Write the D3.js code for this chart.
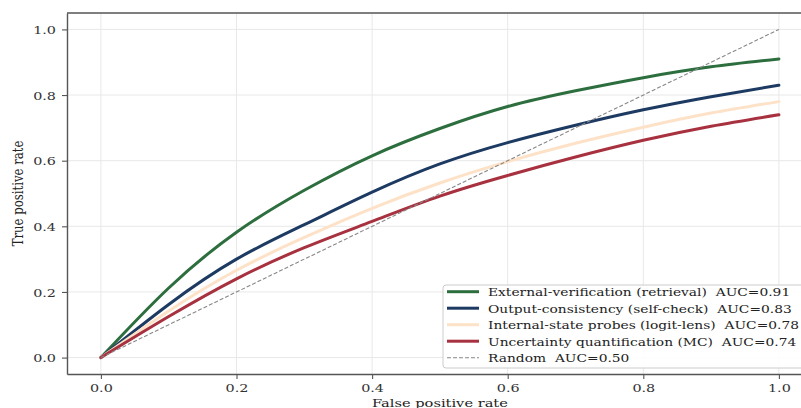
<!DOCTYPE html>
<html>
<head>
<meta charset="utf-8">
<script src="https://cdn.jsdelivr.net/npm/d3@7"></script>
<style>
  html, body { margin: 0; padding: 0; background: #fff; }
  svg { display: block; font-family: "DejaVu Serif", serif; }
</style>
</head>
<body>
<div id="chart"></div>
<script>
// data -------------------------------------------------------------------
const fpr = [0, 0.1, 0.2, 0.3, 0.4, 0.5, 0.6, 0.7, 0.8, 0.9, 1.0];
const externalTpr = [0, 0.212, 0.382, 0.51, 0.615, 0.698, 0.765, 0.813, 0.853, 0.886, 0.91];
const outputTpr = [0, 0.162, 0.30, 0.405, 0.504, 0.59, 0.655, 0.708, 0.755, 0.795, 0.83];
const internalTpr = [0, 0.142, 0.266, 0.366, 0.455, 0.532, 0.597, 0.653, 0.702, 0.745, 0.78];
const uncertaintyTpr = [0, 0.125, 0.24, 0.335, 0.415, 0.492, 0.555, 0.611, 0.662, 0.705, 0.74];
const randomFpr = [0, 1];
const randomTpr = [0, 1];
const seriesNames = [
  'External-verification (retrieval)',
  'Output-consistency (self-check)',
  'Internal-state probes (logit-lens)',
  'Uncertainty quantification (MC)',
  'Random'
];
const aucs = [0.91, 0.83, 0.78, 0.74, 0.50];
const tickValues = [0, 0.2, 0.4, 0.6, 0.8, 1.0];

// layout -------------------------------------------------------------------
const width = 801, height = 408;
const pLeft = 67, pRight = 812.8, pTop = 13, pBottom = 374;
const sx = 1.25; // text is stretched sideways in the reference
const colors = ['#2d6e3e', '#1d3a62', '#fde2c8', '#a8313f', '#888888'];

const x = d3.scaleLinear().domain([-0.05, 1.05]).range([pLeft, pRight]);
const y = d3.scaleLinear().domain([-0.05, 1.05]).range([pBottom, pTop]);

const svg = d3.select('#chart').append('svg')
  .attr('width', width)
  .attr('height', height);

// grid
const grid = svg.append('g');
grid.selectAll('.gx').data(tickValues).enter().append('line')
  .attr('x1', d => x(d)).attr('x2', d => x(d))
  .attr('y1', pTop).attr('y2', pBottom)
  .attr('stroke', '#e8e8e8').attr('stroke-width', 1);
grid.selectAll('.gy').data(tickValues).enter().append('line')
  .attr('x1', pLeft).attr('x2', pRight)
  .attr('y1', d => y(d)).attr('y2', d => y(d))
  .attr('stroke', '#e8e8e8').attr('stroke-width', 1);

// curves
const curves = [externalTpr, outputTpr, internalTpr, uncertaintyTpr];
const line = d3.line()
  .x(d => x(d[0]))
  .y(d => y(d[1]))
  .curve(d3.curveNatural);
curves.forEach((tpr, i) => {
  svg.append('path')
    .attr('d', line(fpr.map((f, j) => [f, tpr[j]])))
    .attr('fill', 'none')
    .attr('stroke', colors[i])
    .attr('stroke-width', 3)
    .attr('stroke-linecap', 'round');
});
svg.append('path')
  .attr('d', d3.line().x(d => x(d[0])).y(d => y(d[1]))(randomFpr.map((f, j) => [f, randomTpr[j]])))
  .attr('fill', 'none')
  .attr('stroke', colors[4])
  .attr('stroke-width', 1.1)
  .attr('stroke-dasharray', '4,2');

// axes
const fmt = d3.format('.1f');
const xAxis = svg.append('g')
  .attr('transform', 'translate(0,' + pBottom + ')')
  .call(d3.axisBottom(x).tickValues(tickValues).tickFormat(fmt).tickSize(5).tickSizeOuter(0));
const yAxis = svg.append('g')
  .attr('transform', 'translate(' + pLeft + ',0)')
  .call(d3.axisLeft(y).tickValues(tickValues).tickFormat(fmt).tickSize(5).tickSizeOuter(0));
[xAxis, yAxis].forEach(g => {
  g.select('.domain').attr('stroke', '#555').attr('stroke-width', 1.4);
  g.selectAll('.tick line').attr('stroke', '#555').attr('stroke-width', 1.1);
  g.selectAll('.tick text')
    .attr('fill', '#333')
    .attr('font-family', '"DejaVu Serif", serif')
    .attr('font-size', '11.5px');
});
xAxis.selectAll('.tick text')
  .attr('y', null).attr('dy', null)
  .attr('transform', 'translate(0,17.7) scale(' + sx + ',1)');
yAxis.selectAll('.tick text')
  .attr('x', null).attr('dy', null)
  .attr('transform', 'translate(-11,4.3) scale(' + sx + ',1)');
// top spine
svg.append('line')
  .attr('x1', pLeft).attr('x2', pRight)
  .attr('y1', pTop).attr('y2', pTop)
  .attr('stroke', '#555').attr('stroke-width', 1.4);

// axis titles
svg.append('text')
  .attr('transform', 'translate(' + ((pLeft + pRight) / 2) + ',406.5) scale(' + sx + ',1)')
  .attr('text-anchor', 'middle')
  .attr('font-size', '11.7px')
  .attr('fill', '#222')
  .text('False positive rate');
svg.append('text')
  .attr('transform', 'translate(23,' + ((pTop + pBottom) / 2) + ') scale(' + sx + ',1) rotate(-90)')
  .attr('text-anchor', 'middle')
  .attr('font-size', '11.7px')
  .attr('fill', '#222')
  .text('True positive rate');

// legend
const legend = svg.append('g');
legend.append('rect')
  .attr('x', 443).attr('y', 285)
  .attr('width', 380).attr('height', 83)
  .attr('rx', 3)
  .attr('fill', 'rgba(255,255,255,0.9)')
  .attr('stroke', '#cccccc');
const rowY = 291.7, rowH = 16.5;
const legendTexts = [];
seriesNames.forEach((name, i) => {
  const cy = rowY + i * rowH;
  legend.append('line')
    .attr('x1', 447).attr('x2', 479)
    .attr('y1', cy).attr('y2', cy)
    .attr('stroke', colors[i])
    .attr('stroke-width', i < 4 ? 3 : 1.1)
    .attr('stroke-dasharray', i < 4 ? null : '4,2');
  const t = legend.append('text')
    .attr('font-size', '11.7px')
    .attr('fill', '#222')
    .text(name + '\u00a0 AUC=' + aucs[i].toFixed(2));
  legendTexts.push([t, cy]);
});
// first legend row spans about 302px in the reference
const firstLen = legendTexts[0][0].node().getComputedTextLength();
const lsx = 302 / firstLen;
legendTexts.forEach(([t, cy]) => {
  t.attr('transform', 'translate(488,' + (cy + 4.3) + ') scale(' + lsx + ',1)');
});
</script>
</body>
</html>
